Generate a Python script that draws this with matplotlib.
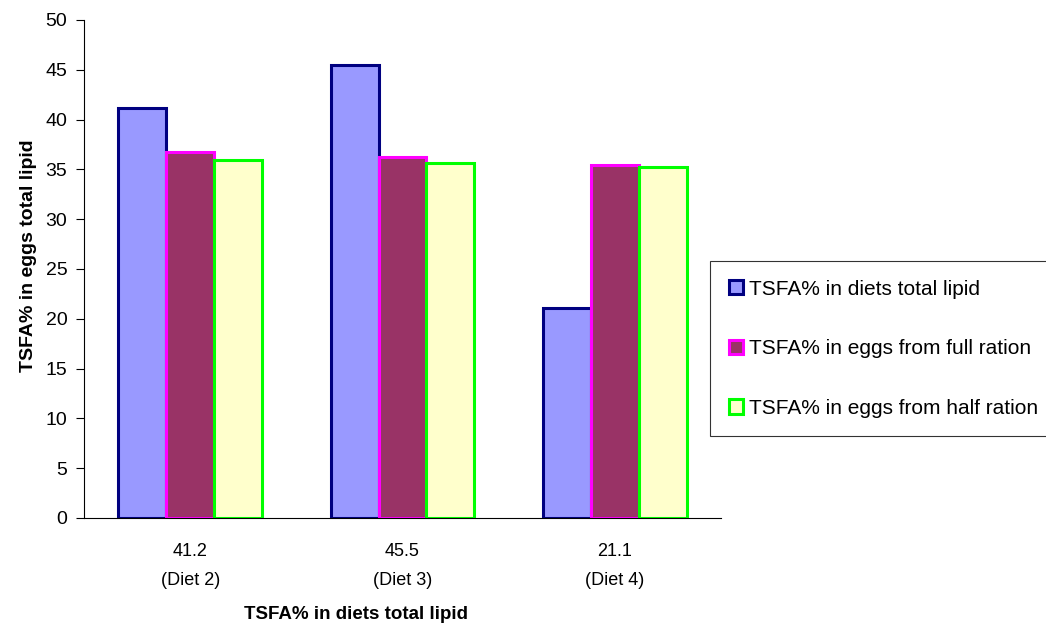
import numpy as np
import matplotlib
matplotlib.use('Agg')
import matplotlib.pyplot as plt

plt.rcParams['font.family'] = ['Liberation Sans', 'DejaVu Sans']

# datos
categorias = ['41.2\n(Diet 2)', '45.5\n(Diet 3)', '21.1\n(Diet 4)']
dietas = [41.2, 45.5, 21.1]
huevos_completa = [36.7, 36.2, 35.4]
huevos_media = [35.9, 35.6, 35.2]

series = [
    ('TSFA% in diets total lipid', dietas, '#9999FF', '#000080'),
    ('TSFA% in eggs from full ration', huevos_completa, '#993366', '#FF00FF'),
    ('TSFA% in eggs from half ration', huevos_media, '#FFFFCC', '#00FF00'),
]

fig = plt.figure(figsize=(10.46, 6.25), dpi=100)
ax = fig.add_axes([0.0803, 0.1712, 0.609, 0.797])

x = np.arange(len(categorias))
ancho = 0.225
for i, (nombre, valores, relleno, borde) in enumerate(series):
    ax.bar(x + (i - 1) * ancho, valores, width=ancho, color=relleno,
           edgecolor=borde, linewidth=2.2, label=nombre)

ax.set_xlim(-0.5, 2.5)
ax.set_ylim(0, 50)
ax.set_yticks(range(0, 51, 5))
ax.set_xticks(x)
ax.set_xticklabels(categorias, linespacing=1.9)
ax.tick_params(axis='x', length=0, pad=18, labelsize=13)
ax.tick_params(axis='y', length=6, direction='out', labelsize=14, pad=6)
for lado in ['top', 'right']:
    ax.spines[lado].set_visible(False)
ax.spines['left'].set_color('black')
ax.spines['bottom'].set_color('black')

ax.set_ylabel('TSFA% in eggs total lipid', fontsize=14, fontweight='bold')
ax.yaxis.set_label_coords(-0.074, 0.526)
ax.set_xlabel('TSFA% in diets total lipid', fontsize=13.5, fontweight='bold')
ax.xaxis.set_label_coords(0.427, -0.177)

leg = fig.legend(loc='upper left', bbox_to_anchor=(0.679, 0.582), fontsize=15,
                 frameon=True, fancybox=False, edgecolor='black',
                 handlelength=0.67, handleheight=0.67, handletextpad=0.3,
                 labelspacing=1.95, borderpad=0.88, borderaxespad=0)
leg.get_frame().set_linewidth(0.8)

fig.savefig('out.png', dpi=100)
